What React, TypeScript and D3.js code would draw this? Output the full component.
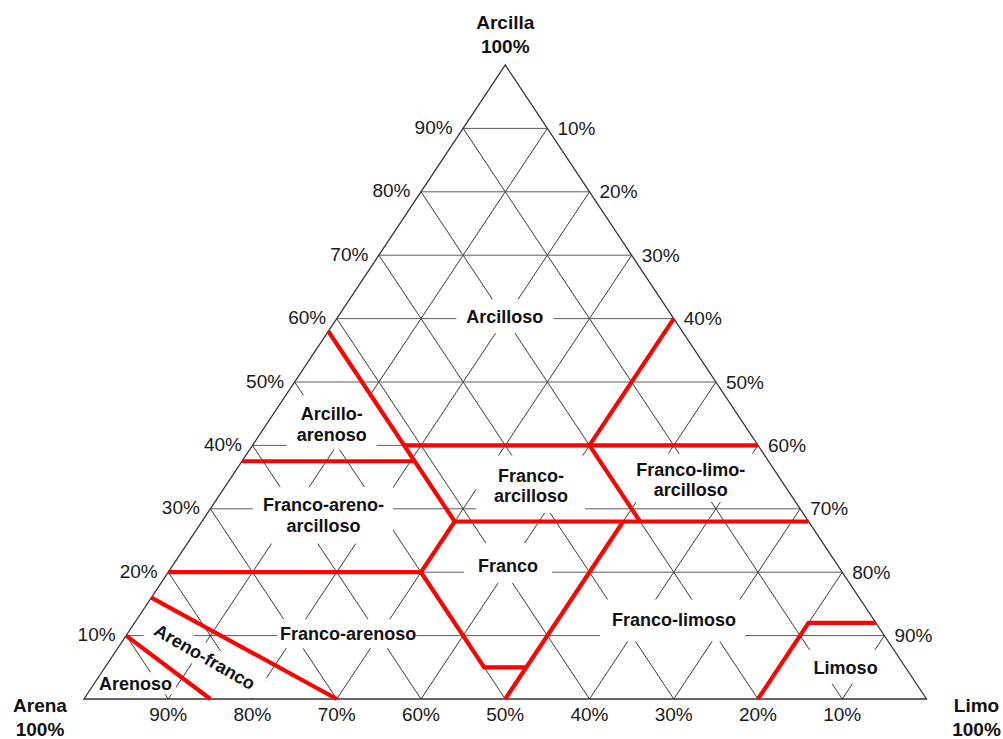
import { useEffect, useRef } from 'react';
import * as d3 from 'd3';

const W = 1003;
const H = 739;

// every point is [clay %, silt %]; sand is what is left
const gridSteps = [10, 20, 30, 40, 50, 60, 70, 80, 90];
const clayTicks = [10, 20, 30, 40, 50, 60, 70, 80, 90]; // left side
const siltTicks = [10, 20, 30, 40, 50, 60, 70, 80, 90]; // right side
const sandTicks = [90, 80, 70, 60, 50, 40, 30, 20, 10]; // bottom

// red class boundaries
const arenosoLine = [[10, 0], [0, 15]];
const arenoFrancoLine = [[16, 0], [0, 30]];
const arcillaArenaLine = [[58, 0], [28, 30]];
const arcilloArenosoBase = [[37.5, 0], [37.5, 20.5]];
const arcillaBase = [[40, 18], [40, 60]];
const arcillaLimoLine = [[60, 40], [40, 40]];
const francoArcillosoRight = [[40, 40], [28, 52]];
const clay28Line = [[28, 30], [28, 72]];
const clay20Line = [[20, 0], [20, 30]];
const francoLeft = [[28, 30], [20, 30], [5, 45], [5, 50]];
const francoRight = [[0, 50], [28, 50]];
const limosoLine = [[0, 80], [12, 80], [12, 88]];

const boundaries = [
  arenosoLine, arenoFrancoLine, arcillaArenaLine, arcilloArenosoBase, arcillaBase,
  arcillaLimoLine, francoArcillosoRight, clay28Line, clay20Line, francoLeft,
  francoRight, limosoLine,
];

// texture classes and where their names sit
const regionNames = [
  ['Arcilloso'],
  ['Arcillo-', 'arenoso'],
  ['Franco-', 'arcilloso'],
  ['Franco-limo-', 'arcilloso'],
  ['Franco-areno-', 'arcilloso'],
  ['Franco'],
  ['Franco-limoso'],
  ['Franco-arenoso'],
  ['Areno-franco'],
  ['Arenoso'],
  ['Limoso'],
];
const regionClay = [60.3, 43.4, 33.7, 34.65, 29.05, 21.06, 12.46, 10.3, 6.7, 2.4, 5.0];
const regionSilt = [19.8, 7.7, 36.2, 54.7, 13.9, 39.8, 63.8, 26.2, 11.0, 4.9, 87.9];

// layout only: white box padding [left, right, top, bottom] and rotation
const labelPad = [
  [10, 10, 11, 10],
  [10, 10, 12, 9],
  [18, 17, 13, 11],
  [14, 8, 9, 6],
  [10, 9, 11, 12],
  [14, 14, 16, 11],
  [12, 9, 14, 15],
  [3, 0, 8, 8],
  [8, 8, 6, 6],
  [4, 4, 5, 4],
  [10, 8, 11, 10],
];
const labelAngle = [0, 0, 0, 0, 0, 0, 0, 0, 30, 0, 0];

const FONT = "'Liberation Sans', Arial, Helvetica, sans-serif";

const SoilTriangle = () => {
  const svgRef = useRef<SVGSVGElement>(null);

  useEffect(() => {
    const svg = d3.select(svgRef.current);
    svg.selectAll('*').remove();

    const x = d3.scaleLinear().domain([0, 100]).range([84, 926.5]);
    const y = d3.scaleLinear().domain([0, 100]).range([699, 65]);
    const px = (d: number[]) => [x(d[1] + d[0] / 2), y(d[0])];
    const line = d3.line<number[]>().x(d => px(d)[0]).y(d => px(d)[1]);

    const gridLayer = svg.append('g');
    const boxLayer = svg.append('g');
    const borderLayer = svg.append('g');
    const redLayer = svg.append('g');
    const textLayer = svg.append('g').style('font-family', FONT);

    // grid: constant clay (horizontal), constant silt, constant sand
    gridSteps.forEach(v => {
      gridLayer.append('path').attr('d', line([[v, 0], [v, 100 - v]]))
        .attr('stroke', '#5c5c5c').attr('stroke-width', 1).attr('fill', 'none');
      gridLayer.append('path').attr('d', line([[0, v], [100 - v, v]]))
        .attr('stroke', '#3a3a3a').attr('stroke-width', 1).attr('fill', 'none');
      gridLayer.append('path').attr('d', line([[0, 100 - v], [100 - v, 0]]))
        .attr('stroke', '#3a3a3a').attr('stroke-width', 1).attr('fill', 'none');
    });

    borderLayer.append('path')
      .attr('d', line([[0, 0], [0, 100], [100, 0]]) + 'Z')
      .attr('fill', 'none').attr('stroke', '#333').attr('stroke-width', 1.3);

    redLayer.selectAll('path').data(boundaries).enter().append('path')
      .attr('d', d => line(d))
      .attr('fill', 'none')
      .attr('stroke', '#ff0000')
      .attr('stroke-width', 4.2)
      .attr('stroke-linejoin', 'miter');

    // class names with white boxes behind them
    const fs = 18;
    const capH = fs * 0.72;
    const lh = 20.5;
    regionNames.forEach((lines, i) => {
      const [cx, cy] = px([regionClay[i], regionSilt[i]]);
      const tr = `translate(${cx},${cy}) rotate(${labelAngle[i]})`;
      const g = textLayer.append('g').attr('transform', tr);
      const blockH = capH + (lines.length - 1) * lh;
      const first = -blockH / 2 + capH;
      let maxW = 0;
      lines.forEach((t, j) => {
        const node = g.append('text')
          .attr('x', 0).attr('y', first + j * lh)
          .attr('text-anchor', 'middle')
          .style('font-size', fs + 'px').style('font-weight', 'bold')
          .attr('fill', '#111')
          .text(t).node() as SVGTextElement;
        maxW = Math.max(maxW, node.getComputedTextLength());
      });
      const [pl, pr, pt, pb] = labelPad[i];
      const last = first + (lines.length - 1) * lh;
      boxLayer.append('rect')
        .attr('transform', tr)
        .attr('x', -maxW / 2 - pl)
        .attr('y', first - capH - pt)
        .attr('width', maxW + pl + pr)
        .attr('height', last - first + capH + pt + pb)
        .attr('fill', '#fff');
    });

    // side tick labels
    const tickStyle = (s: any) => s.style('font-size', '19px').attr('fill', '#1a1a1a');
    clayTicks.forEach(v => {
      const [lx, ly] = px([v, 0]);
      textLayer.append('text').attr('x', lx - 10.5).attr('y', ly + 5.5)
        .attr('text-anchor', 'end').call(tickStyle).text(`${v}%`);
    });
    siltTicks.forEach(v => {
      const [rx, ry] = px([100 - v, v]);
      textLayer.append('text').attr('x', rx + 10).attr('y', ry + 6.5)
        .attr('text-anchor', 'start').call(tickStyle).text(`${v}%`);
    });
    sandTicks.forEach(v => {
      const [bx, by] = px([0, 100 - v]);
      textLayer.append('text').attr('x', bx).attr('y', by + 22)
        .attr('text-anchor', 'middle').call(tickStyle).text(`${v}%`);
    });

    // corner names
    const corner = (pt: number[], dx: number, dy: number, name: string) => {
      const [cx, cy] = px(pt);
      const t = textLayer.append('text').attr('text-anchor', 'middle')
        .style('font-size', '19px').style('font-weight', 'bold').attr('fill', '#111');
      t.append('tspan').attr('x', cx + dx).attr('y', cy + dy).text(name);
      t.append('tspan').attr('x', cx + dx).attr('y', cy + dy + 23.5).text('100%');
    };
    corner([100, 0], 0, -36, 'Arcilla');
    corner([0, 0], -44, 13, 'Arena');
    corner([0, 100], 50, 13, 'Limo');
  }, []);

  return (
    <svg
      ref={svgRef}
      width={W}
      height={H}
      style={{ position: 'absolute', left: 0, top: 0, background: '#fff' }}
    />
  );
};

export default function App() {
  return <SoilTriangle />;
}
